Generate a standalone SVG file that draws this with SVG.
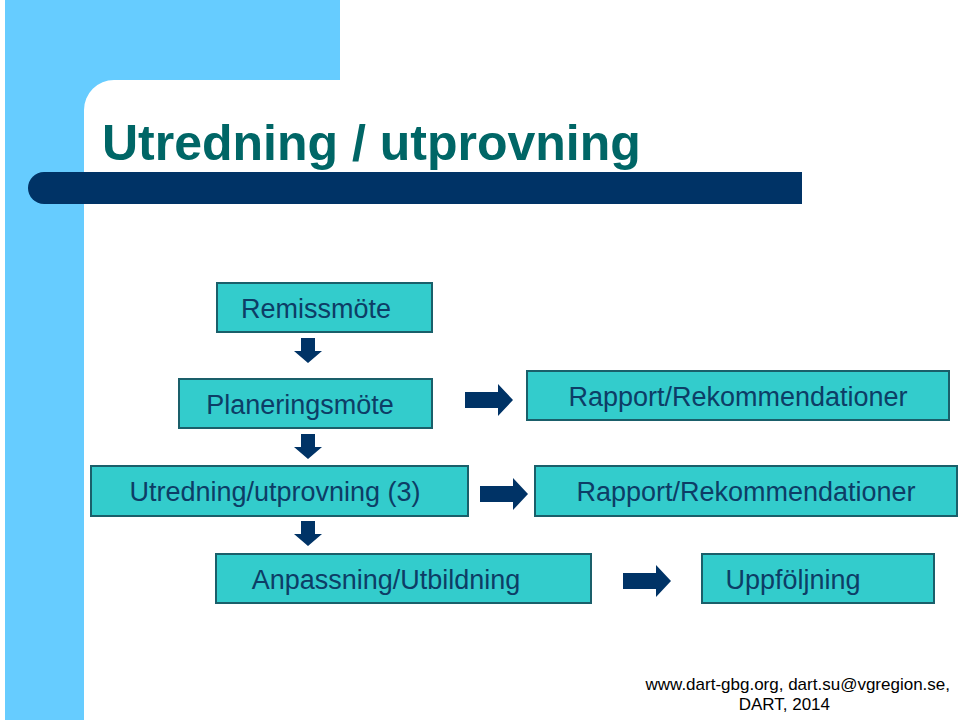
<svg xmlns="http://www.w3.org/2000/svg" width="960" height="720" viewBox="0 0 960 720">
<style>
.box{fill:#33CCCC;stroke:#1a5f6a;stroke-width:2}
.t{font-family:"Liberation Sans",Arial,sans-serif;font-size:27px;fill:#0d3d66}
.ar{fill:#003366}
.f{font-family:"Liberation Sans",Arial,sans-serif;font-size:17px;fill:#000}
</style>
<defs>
<path id="down" class="ar" d="M-7,0 H7 V13 H14 L0,25 L-14,13 H-7 Z"/>
<path id="right" class="ar" d="M0,-8 H33 V-16 L48,0 L33,16 V8 H0 Z"/>
</defs>
<rect width="960" height="720" fill="#fff"/>
<rect x="5" y="0" width="335" height="80" fill="#66CCFF"/>
<rect x="5" y="0" width="79" height="720" fill="#66CCFF"/>
<path d="M84,80 H114 A30,30 0 0 0 84,110 Z" fill="#66CCFF"/>
<text x="102" y="160" font-family="Liberation Sans,Arial,sans-serif" font-size="50" font-weight="bold" fill="#006666">Utredning / utprovning</text>
<path d="M44,172 H802 V204 H44 A16,16 0 0 1 44,172 Z" fill="#003366"/>
<g id="n1"><rect class="box" x="217" y="283" width="215" height="49"/><text class="t" x="316" y="318" text-anchor="middle">Remissmöte</text></g>
<g id="n2"><rect class="box" x="179" y="379" width="253" height="49"/><text class="t" x="300" y="414" text-anchor="middle">Planeringsmöte</text></g>
<g id="n3"><rect class="box" x="527" y="371" width="422" height="49"/><text class="t" x="738" y="406" text-anchor="middle">Rapport/Rekommendationer</text></g>
<g id="n4"><rect class="box" x="91" y="466" width="377" height="50"/><text class="t" x="275" y="501" text-anchor="middle">Utredning/utprovning (3)</text></g>
<g id="n5"><rect class="box" x="535" y="466" width="422" height="50"/><text class="t" x="746" y="501" text-anchor="middle">Rapport/Rekommendationer</text></g>
<g id="n6"><rect class="box" x="216" y="554" width="375" height="49"/><text class="t" x="386" y="589" text-anchor="middle">Anpassning/Utbildning</text></g>
<g id="n7"><rect class="box" x="702" y="554" width="232" height="49"/><text class="t" x="793" y="589" text-anchor="middle">Uppföljning</text></g>
<g id="connectors">
<use href="#down" x="308" y="338"/>
<use href="#down" x="308" y="434"/>
<use href="#down" x="308" y="521"/>
<use href="#right" x="465" y="400"/>
<use href="#right" x="480" y="494"/>
<use href="#right" x="623" y="581"/>
</g>
<text class="f" x="950" y="690" text-anchor="end">www.dart-gbg.org,  dart.su@vgregion.se,</text>
<text class="f" x="830" y="710" text-anchor="end">DART, 2014</text>
</svg>
